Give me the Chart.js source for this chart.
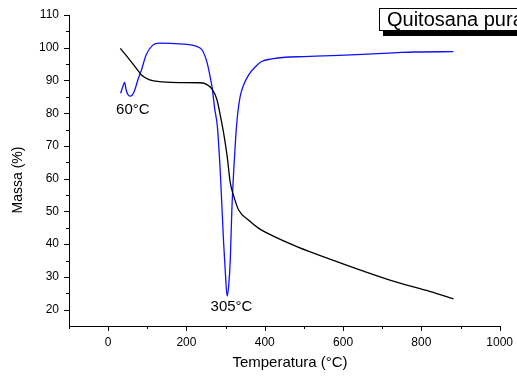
<!DOCTYPE html>
<html><head><meta charset="utf-8">
<script src="https://cdn.jsdelivr.net/npm/chart.js@4/dist/chart.umd.min.js"></script>
<style>html,body{margin:0;padding:0;background:#fff;overflow:hidden}</style>
</head><body>
<canvas id="c" width="517" height="379" style="width:517px;height:379px;display:block"></canvas>
<script>
// TGA curve (black): temperature (°C) and mass (%)
const tgaTemp = [31, 55, 72, 85, 106, 139, 181, 232, 249, 266, 278, 287, 295, 304, 312, 321, 333, 359, 384, 409, 485, 570, 654, 739, 823, 882];
const tgaMass = [99.8, 96.3, 93.7, 91.7, 90.2, 89.6, 89.35, 89.3, 88.95, 87.3, 84.1, 79.0, 73.9, 66.8, 58.7, 54.6, 50.5, 47.3, 44.9, 43.2, 39.1, 35.3, 31.7, 28.3, 25.5, 23.3];
// DTG curve (blue)
const dtgTemp = [32, 38, 42, 46, 50, 56, 62, 68, 76, 85, 97, 114, 131, 181, 224, 240, 253, 262, 266, 272, 279, 287, 295, 300, 304, 308, 312, 316, 321, 326, 331, 337, 346, 359, 376, 392, 418, 452, 500, 570, 620, 688, 740, 781, 882];
const dtgVal  = [86.1, 88.3, 89.4, 87.1, 85.8, 85.2, 85.6, 87.1, 90.2, 93.2, 97.8, 100.8, 101.4, 101.2, 100.5, 99.3, 95.3, 90.2, 87.5, 81.5, 75.9, 60.7, 40.3, 30.0, 24.1, 27.5, 35.3, 50.5, 63.0, 73.0, 80.0, 85.0, 88.6, 91.7, 94.2, 95.8, 96.6, 97.1, 97.3, 97.6, 97.8, 98.2, 98.5, 98.7, 98.8];
// Axis ticks
const xTicks = [-100, 0, 100, 200, 300, 400, 500, 600, 700, 800, 900, 1000];
const yTicks = [20, 30, 40, 50, 60, 70, 80, 90, 100, 110];
const yMinorTicks = [25, 35, 45, 55, 65, 75, 85, 95, 105];
// Labels
const legendText = 'Quitosana pura';
const xTitle = 'Temperatura (°C)';
const yTitle = 'Massa (%)';
const peakLabels = [{t: '60°C', x: 63, y: 81}, {t: '305°C', x: 315, y: 20.7}];

const FONT = '"Liberation Sans", Arial, sans-serif';

const toPts = (xs, ys) => xs.map((x, i) => ({x: x, y: ys[i]}));

const extras = {
  id: 'extras',
  afterDraw(chart) {
    const ctx = chart.ctx;
    const xs = chart.scales.x, ys = chart.scales.y;
    const ca = chart.chartArea;
    ctx.save();
    ctx.strokeStyle = '#000';
    ctx.lineWidth = 1;
    xTicks.forEach(v => {
      const p = Math.round(xs.getPixelForValue(v)) + 0.5;
      const len = (v % 200 === 0) ? 5 : 3;
      ctx.beginPath(); ctx.moveTo(p, ca.bottom); ctx.lineTo(p, ca.bottom + len); ctx.stroke();
    });
    yTicks.forEach(v => {
      const p = Math.round(ys.getPixelForValue(v)) + 0.5;
      ctx.beginPath(); ctx.moveTo(ca.left, p); ctx.lineTo(ca.left - 5, p); ctx.stroke();
    });
    yMinorTicks.forEach(v => {
      const p = Math.round(ys.getPixelForValue(v)) + 0.5;
      ctx.beginPath(); ctx.moveTo(ca.left, p); ctx.lineTo(ca.left - 3, p); ctx.stroke();
    });
    ctx.fillStyle = '#000';
    ctx.textAlign = 'center';
    ctx.textBaseline = 'middle';
    ctx.font = '15px ' + FONT;
    ctx.fillText(xTitle, 290, 363);
    ctx.save();
    ctx.translate(18, 180);
    ctx.rotate(-Math.PI / 2);
    ctx.font = '14px ' + FONT;
    ctx.fillText(yTitle, 0, 0);
    ctx.restore();
    ctx.font = '15px ' + FONT;
    peakLabels.forEach(l => {
      ctx.fillText(l.t, xs.getPixelForValue(l.x), ys.getPixelForValue(l.y));
    });
    ctx.fillStyle = '#000';
    ctx.fillRect(383, 12, 200, 24);
    ctx.fillStyle = '#fff';
    ctx.fillRect(379, 8, 200, 22);
    ctx.strokeStyle = '#000';
    ctx.strokeRect(379.5, 8.5, 200, 22);
    ctx.fillStyle = '#000';
    ctx.textAlign = 'left';
    ctx.textBaseline = 'alphabetic';
    ctx.font = '20px ' + FONT;
    ctx.fillText(legendText, 387, 26);
    ctx.restore();
  }
};

new Chart(document.getElementById('c'), {
  type: 'scatter',
  data: {
    datasets: [
      {label: 'TGA', data: toPts(tgaTemp, tgaMass), showLine: true, borderColor: '#000', borderWidth: 1.3, pointRadius: 0, cubicInterpolationMode: 'monotone', fill: false},
      {label: 'DTG', data: toPts(dtgTemp, dtgVal), showLine: true, borderColor: '#1010ff', borderWidth: 1.3, pointRadius: 0, cubicInterpolationMode: 'monotone', fill: false}
    ]
  },
  options: {
    responsive: false,
    animation: false,
    layout: {padding: {left: 0, right: 15, top: 15, bottom: 0}},
    plugins: {legend: {display: false}, tooltip: {enabled: false}},
    scales: {
      x: {
        type: 'linear', min: -100, max: 1000,
        afterBuildTicks: s => { s.ticks = xTicks.map(v => ({value: v})); },
        afterFit: s => { s.height = 53; },
        ticks: {callback: v => (v % 200 === 0 ? String(v) : ''), font: {family: FONT, size: 12}, color: '#000', maxRotation: 0, autoSkip: false, padding: 4},
        grid: {display: true, drawOnChartArea: false, drawTicks: true, tickLength: 5, tickColor: 'rgba(0,0,0,0)'},
        border: {display: true, color: '#000', width: 1}
      },
      y: {
        type: 'linear', min: 15, max: 110,
        afterBuildTicks: s => { s.ticks = yTicks.map(v => ({value: v})); },
        afterFit: s => { s.width = 69; },
        ticks: {callback: v => String(v), font: {family: FONT, size: 12}, color: '#000', padding: 5},
        grid: {display: true, drawOnChartArea: false, drawTicks: true, tickLength: 5, tickColor: 'rgba(0,0,0,0)'},
        border: {display: true, color: '#000', width: 1}
      }
    }
  },
  plugins: [extras]
});
</script>
</body></html>
